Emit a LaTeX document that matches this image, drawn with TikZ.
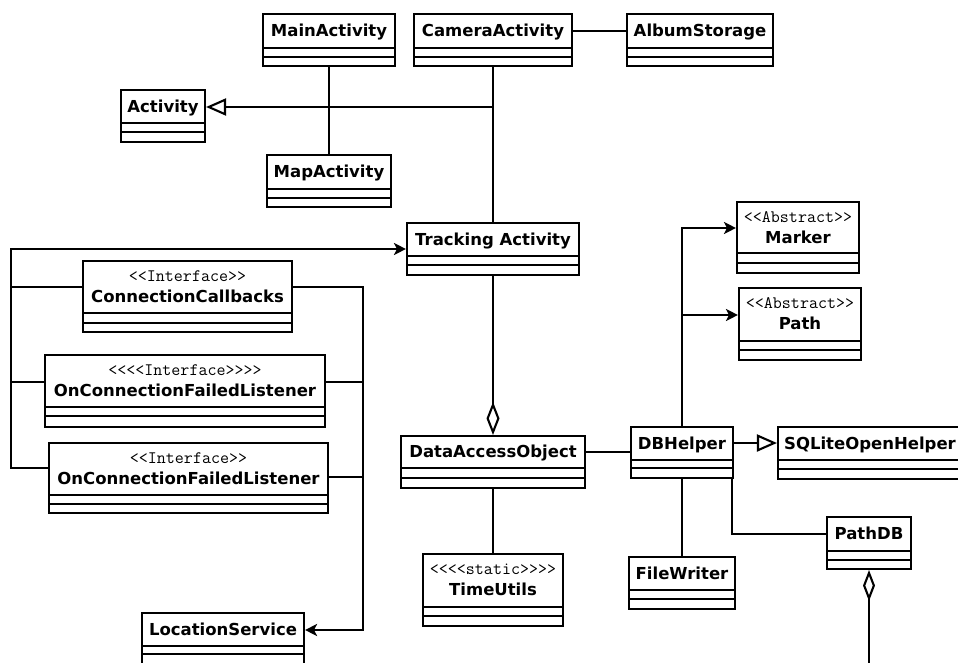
\documentclass[tikz,border=0pt]{standalone}
\usepackage{fontspec}
\setmainfont{DejaVu Sans}
\usetikzlibrary{arrows.meta}
\newcommand\lsh{<\kern0pt}
\newcommand\rsh{>\kern0pt}
% base class box: name, left, top, right, line1, line2, bottom
\newcommand\clsframe[7]{%
  \node[clsbox, minimum width={#4pt-#2pt}, minimum height={#7pt-#3pt}] (#1) at ({(#2+#4)/2},{(#3+#7)/2}) {};
  \draw[clsline] (#2,#5) -- (#4,#5) (#2,#6) -- (#4,#6);
}
% plain class: name, left, top, right, line1, line2, bottom, title
\newcommand\umlcls[8]{%
  \clsframe{#1}{#2}{#3}{#4}{#5}{#6}{#7}
  \node[nametext] (#1-n) at ({(#2+#4)/2},{(#3+#5)/2+1.5}) {#8};
}
% stereotyped class: name, left, top, right, line1, line2, bottom, stereotype, title
\newcommand\umlscls[9]{%
  \clsframe{#1}{#2}{#3}{#4}{#5}{#6}{#7}
  \node[stereotext] (#1-s) at ({(#2+#4)/2},{#3+15}) {#8};
  \node[nametext] (#1-n) at ({(#2+#4)/2},{#3+37}) {#9};
}
\begin{document}
\begin{tikzpicture}[x=1pt,y=-1pt,line join=miter,
  clsbox/.style={draw, line width=2.1pt, inner sep=0pt, fill=white},
  clsline/.style={line width=2.1pt},
  nametext/.style={font=\fontsize{16.5}{19}\selectfont\bfseries, inner sep=0pt, text height=12pt, text depth=3.5pt},
  stereotext/.style={font=\ttfamily\fontsize{17.5}{18}\selectfont, inner sep=0pt},
  conn/.style={line width=2.1pt},
  arr/.style={conn, -{Stealth[length=12pt,width=12pt,inset=3pt]}},
  gen/.style={conn, -{Triangle[open,length=20pt,width=17pt]}},
  agg/.style={conn, -{Diamond[open,length=33pt,width=13pt]}},
  agg2/.style={conn, -{Diamond[open,length=31pt,width=12pt]}}]
\useasboundingbox (0,0) rectangle (958,663);
\clip (0,0) rectangle (958,663);
\fill[white] (0,0) rectangle (958,663);

% classes
\umlcls{main}{263}{14}{395}{48}{57}{66}{MainActivity}
\umlcls{camera}{414}{14}{572}{48}{57}{66}{CameraActivity}
\umlcls{album}{627}{14}{773}{48}{57}{66}{AlbumStorage}
\umlcls{activity}{121}{90}{205}{123}{132}{142}{Activity}
\umlcls{map}{267}{155}{391}{189}{198}{207}{MapActivity}
\umlcls{tracking}{407}{223}{579}{256}{265}{275}{Tracking Activity}
\umlscls{cc}{83}{261}{292}{313}{323}{332}{\lsh\lsh Interface\rsh\rsh}{ConnectionCallbacks}
\umlscls{ocfla}{45}{355}{325}{407}{416}{427}{\lsh\lsh\lsh\lsh Interface\rsh\rsh\rsh\rsh}{OnConnectionFailedListener}
\umlscls{ocflb}{49}{443}{328}{495}{504}{513}{\lsh\lsh Interface\rsh\rsh}{OnConnectionFailedListener}
\umlcls{loc}{142}{613}{304}{646}{654}{672}{LocationService}
\umlcls{dao}{401}{436}{585}{468}{478}{488}{DataAccessObject}
\umlscls{time}{423}{554}{563}{607}{616}{626}{\lsh\lsh\lsh\lsh static\rsh\rsh\rsh\rsh}{TimeUtils}
\umlcls{dbh}{631}{427}{733}{460}{468}{478}{DBHelper}
\umlcls{sqlite}{778}{427}{962}{460}{469}{479}{SQLiteOpenHelper}
\umlscls{marker}{737}{202}{859}{253}{263}{273}{\lsh\lsh Abstract\rsh\rsh}{Marker}
\umlscls{path}{739}{288}{861}{341}{350}{360}{\lsh\lsh Abstract\rsh\rsh}{Path}
\umlcls{filew}{629}{557}{735}{590}{599}{609}{FileWriter}
\umlcls{pathdb}{827}{517}{911}{551}{560}{569}{PathDB}

% connectors
\draw[conn] (main.south) -- (main.south |- map.north);
\draw[conn] (camera.east |- 0,31) -- (album.west |- 0,31);
\draw[conn] (camera.south) -- (camera.south |- tracking.north);
\coordinate (jA) at (493,107);
\draw[gen] (jA) -- (activity.east |- jA);
\draw[agg] (tracking.south) -- (tracking.south |- dao.north);

\coordinate (busTL) at (11,249);
\coordinate (busBL) at (11,468);
\draw[arr] (ocflb.west |- busBL) -- (busBL) -- (busTL) -- (tracking.west |- busTL);
\draw[conn] (cc.west |- 0,287) -- (busTL |- 0,287);
\draw[conn] (ocfla.west |- 0,382) -- (busTL |- 0,382);

\coordinate (busR) at (363,630);
\draw[arr] (cc.east |- 0,287) -- (busR |- 0,287) -- (busR) -- (loc.east |- busR);
\draw[conn] (ocfla.east |- 0,382) -- (busR |- 0,382);
\draw[conn] (ocflb.east |- 0,477) -- (busR |- 0,477);

\draw[conn] (dao.east |- 0,452) -- (dbh.west |- 0,452);
\draw[gen] (dbh.east |- 0,443) -- (sqlite.west |- 0,443);
\draw[arr] (dbh.north) -- (dbh.north |- 0,228) -- (marker.west |- 0,228);
\draw[arr] (dbh.north |- 0,315) -- (path.west |- 0,315);
\draw[conn] (dbh.south) -- (dbh.south |- filew.north);
\coordinate (dbc) at (732,478);
\draw[conn] (dbc) -- (dbc |- 0,534) -- (pathdb.west |- 0,534);
\draw[conn] (dao.south) -- (dao.south |- time.north);
\coordinate (pend) at (869,670);
\draw[agg2] (pend) -- (pend |- pathdb.south);
\end{tikzpicture}
\end{document}
